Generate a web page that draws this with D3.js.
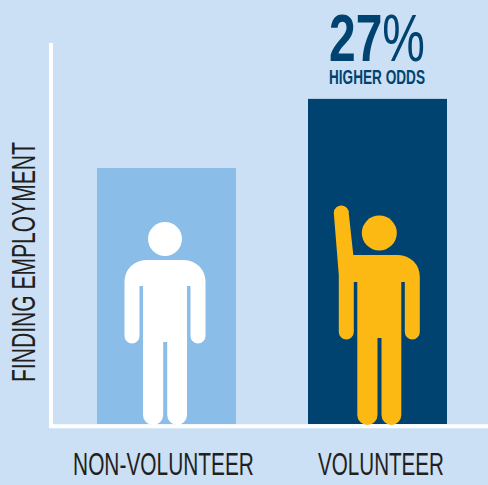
<!DOCTYPE html>
<html>
<head>
<meta charset="utf-8">
<script src="https://cdnjs.cloudflare.com/ajax/libs/d3/7.8.5/d3.min.js"></script>
<style>
html, body { margin: 0; padding: 0; background: #cbe0f4; overflow: hidden; }
svg { display: block; }
text { font-family: "Liberation Sans Narrow", "Liberation Sans", sans-serif; }
</style>
</head>
<body>
<div id="chart"></div>
<script>
// data
var categories = ["NON-VOLUNTEER", "VOLUNTEER"];
var oddsValues = [100, 127];
var barColors = ["#8abde8", "#004370"];
var personColors = ["#ffffff", "#fdb913"];
var yLabel = "FINDING EMPLOYMENT";
var calloutNumber = "27";
var calloutSign = "%";
var calloutText = "HIGHER ODDS";

var width = 488, height = 485;
var baseY = 424;

var svg = d3.select("#chart").append("svg")
	.attr("width", width)
	.attr("height", height);

svg.append("rect")
	.attr("width", width)
	.attr("height", height)
	.attr("fill", "#cbe0f4");

var x = d3.scaleBand()
	.domain(categories)
	.range([97, 447])
	.paddingInner(72 / 211);

var y = d3.scaleLinear()
	.domain([0, 100])
	.range([baseY, 168]);

// squeezes a text to the wanted width, the font has no condensed cut this narrow
function squeeze(node, wanted) {
	return wanted / node.getComputedTextLength();
}

// bars
svg.selectAll("rect.bar")
	.data(categories)
	.enter()
	.append("rect")
	.attr("class", "bar")
	.attr("x", function(d) { return x(d); })
	.attr("y", function(d, i) { return y(oddsValues[i]); })
	.attr("width", x.bandwidth())
	.attr("height", function(d, i) { return baseY - y(oddsValues[i]); })
	.attr("fill", function(d, i) { return barColors[i]; });

// axis lines
svg.append("path")
	.attr("d", "M51,43V426.3H" + width)
	.attr("fill", "none")
	.attr("stroke", "#ffffff")
	.attr("stroke-width", 4);

// figure outline, local coords: x from body centre, y up from the floor
function personPath(raised) {
	var p = d3.path();
	var d = raised ? 0 : 4;
	var top = raised ? -170 : -165;
	p.moveTo(raised ? -22 : -19, top);
	p.lineTo(19, top);
	p.arcTo(40.5, top, 40.5, top + 21.5, 21.5);
	p.lineTo(40.5, -93 + d);
	p.arc(33, -93 + d, 7.5, 0, Math.PI);
	p.lineTo(25.5, -143 + d);
	p.lineTo(22, -143 + d);
	p.lineTo(22, -10);
	p.arcTo(22, 0, 12, 0, 10);
	p.lineTo(12.5, 0);
	p.arcTo(2.2, 0, 2.2, -10, 10);
	p.lineTo(2.2, -87 + d);
	p.lineTo(-1.8, -87 + d);
	p.lineTo(-1.8, -10);
	p.arcTo(-1.8, 0, -11.8, 0, 10);
	p.lineTo(-12, 0);
	p.arcTo(-22, 0, -22, -10, 10);
	p.lineTo(-22, -143 + d);
	p.lineTo(-25.5, -143 + d);
	p.lineTo(-25.5, -93 + d);
	p.arc(-33, -93 + d, 7.5, 0, Math.PI, false);
	if (raised) {
		// arm goes up from the shoulder
		p.lineTo(-40.5, -150);
		p.lineTo(-45.5, -212);
		p.arc(-38, -212, 7.5, Math.PI + 0.07, 2 * Math.PI + 0.07);
		p.lineTo(-26, top);
	} else {
		p.lineTo(-40.5, top + 21.5);
		p.arcTo(-40.5, top, -19, top, 21.5);
	}
	p.closePath();
	return p.toString();
}

var personOffset = [-1.5, 1.8];

var people = svg.selectAll("g.person")
	.data(categories)
	.enter()
	.append("g")
	.attr("class", "person")
	.attr("transform", function(d, i) {
		return "translate(" + (x(d) + x.bandwidth() / 2 + personOffset[i]) + "," + (baseY + 1) + ")";
	})
	.attr("fill", function(d, i) { return personColors[i]; });

people.append("path")
	.attr("d", function(d, i) { return personPath(i == 1); });

people.append("circle")
	.attr("cx", 0)
	.attr("cy", function(d, i) { return i == 1 ? -192 : -186; })
	.attr("r", function(d, i) { return i == 1 ? 17.5 : 17; });

// category labels
var labelOffset = [-3, 3.5];
var labelLength = [181, 126];

var xAxis = svg.append("g")
	.attr("transform", "translate(0,475)")
	.call(d3.axisBottom(x).tickSize(0).tickPadding(0));

xAxis.select(".domain").remove();
xAxis.selectAll("text")
	.attr("y", 0)
	.attr("dy", 0)
	.attr("x", 0)
	.attr("text-anchor", "middle")
	.attr("font-size", 32)
	.attr("fill", "#231f20")
	.style("font-family", '"Liberation Sans Narrow", "Liberation Sans", sans-serif')
	.attr("transform", function(d, i) {
		return "translate(" + labelOffset[i] + ",0) scale(" + squeeze(this, labelLength[i]) + ",1)";
	});

// y label
svg.append("text")
	.attr("font-size", 33)
	.attr("fill", "#231f20")
	.text(yLabel)
	.attr("transform", function() {
		return "translate(35,382) rotate(-90) scale(" + squeeze(this, 240) + ",1)";
	});

// callout
var bigText = svg.append("text")
	.attr("font-size", 66)
	.attr("font-weight", "bold")
	.attr("fill", "#004370");

bigText.append("tspan").text(calloutNumber);
bigText.append("tspan").attr("font-weight", "normal").text(calloutSign);

bigText.attr("transform", function() {
	return "translate(329,61) scale(" + squeeze(this, 96) + ",1)";
});

svg.append("text")
	.attr("font-size", 21)
	.attr("font-weight", "bold")
	.attr("fill", "#004370")
	.text(calloutText)
	.attr("transform", function() {
		return "translate(329,84) scale(" + squeeze(this, 96) + ",1)";
	});
</script>
</body>
</html>
